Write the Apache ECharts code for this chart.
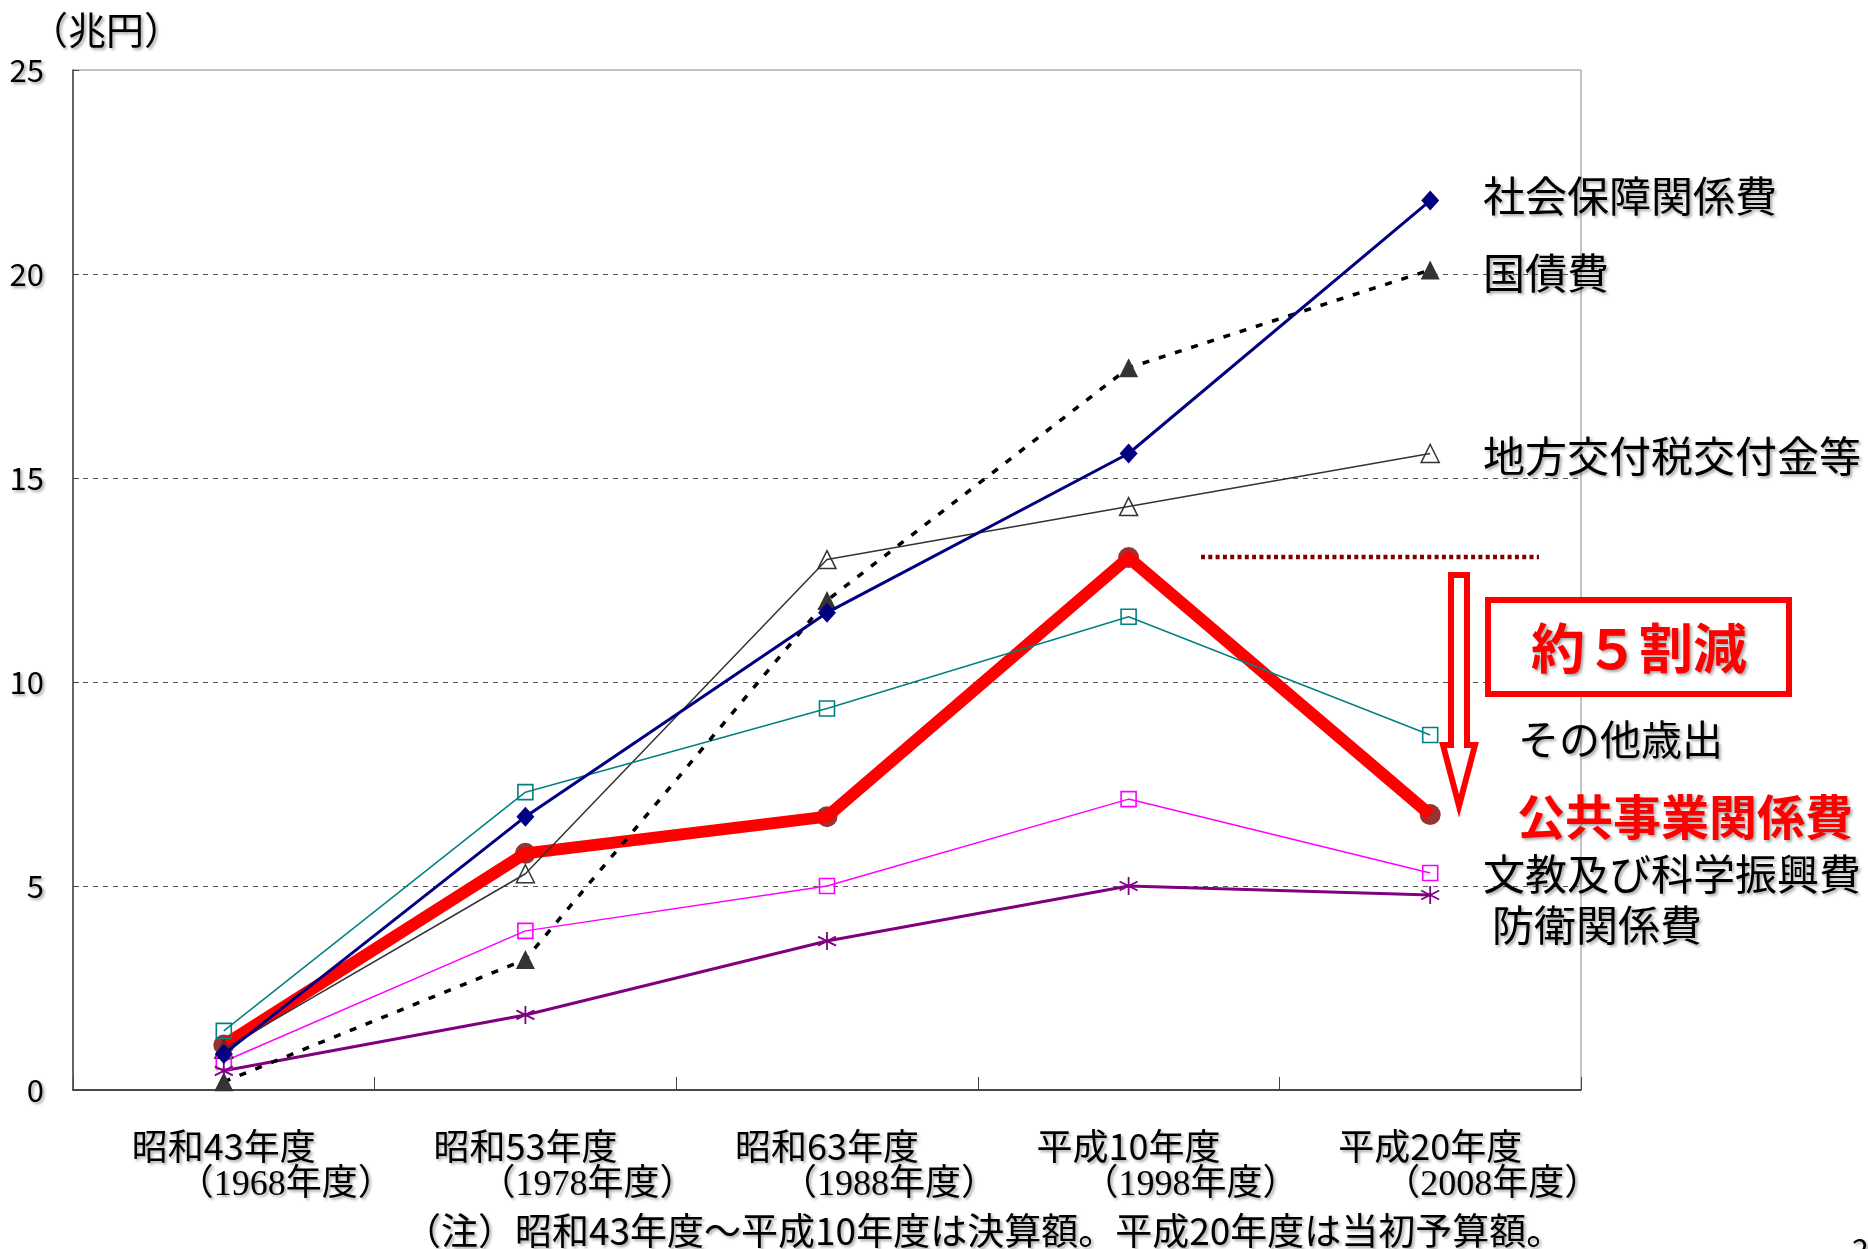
<!DOCTYPE html>
<html>
<head>
<meta charset="utf-8">
<script src="https://cdn.jsdelivr.net/npm/echarts@6/dist/echarts.min.js"></script>
<style>
html,body{margin:0;padding:0;background:#fff;}
#chart{width:1868px;height:1249px;}
</style>
</head>
<body>
<div id="chart"></div>
<script>
// ---- data (兆円) ----
const categories = ['昭和43年度', '昭和53年度', '昭和63年度', '平成10年度', '平成20年度'];
const yearLabels = ['（1968年度）', '（1978年度）', '（1988年度）', '（1998年度）', '（2008年度）'];
const socialSecurity = [0.88, 6.7, 11.7, 15.6, 21.8];   // 社会保障関係費
const debtService    = [0.2, 3.2, 12.0, 17.7, 20.1];    // 国債費
const localAllocation = [1.0, 5.3, 13.0, 14.3, 15.6];   // 地方交付税交付金等
const otherSpending  = [1.45, 7.3, 9.35, 11.6, 8.7];    // その他歳出
const publicWorks    = [1.1, 5.8, 6.7, 13.05, 6.75];    // 公共事業関係費
const education      = [0.7, 3.9, 5.0, 7.13, 5.32];     // 文教及び科学振興費
const defense        = [0.47, 1.84, 3.65, 5.0, 4.78];   // 防衛関係費
const yTicks = { min: 0, max: 25, interval: 5 };

const JP = "'Noto Sans CJK JP', 'Noto Sans', sans-serif";
const SERIF = "'Liberation Serif', 'Noto Sans CJK JP', serif";
const shadow = { textShadowColor: 'rgba(0,0,0,0.35)', textShadowBlur: 3, textShadowOffsetX: 2, textShadowOffsetY: 2 };

const chart = echarts.init(document.getElementById('chart'), null, { renderer: 'canvas' });

const hollow = 'rgba(255,255,255,0)';
const asterisk = 'path://M10,0 L10,20 M1.3,5 L18.7,15 M1.3,15 L18.7,5';

function label(text, x, y, size, opts) {
  return {
    type: 'text', z: 100,
    style: Object.assign({
      x: x, y: y, text: text,
      font: (opts && opts.weight ? opts.weight + ' ' : '') + size + 'px ' + JP,
      fill: (opts && opts.fill) || '#000',
      align: (opts && opts.align) || 'left',
      verticalAlign: 'middle'
    }, shadow)
  };
}

const option = {
  animation: false,
  backgroundColor: '#fff',
  grid: {
    left: 73, right: 287, top: 70, bottom: 159,
    show: true, borderColor: '#8a8a8a', borderWidth: 1,
    outerBoundsMode: 'none'
  },
  xAxis: {
    type: 'category',
    data: categories,
    boundaryGap: true,
    axisLine: { show: true, lineStyle: { color: '#222', width: 1.5 } },
    axisTick: { show: true, inside: true, length: 13, alignWithLabel: false, lineStyle: { color: '#444', width: 1 } },
    splitLine: { show: false },
    axisLabel: {
      interval: 0,
      margin: 37,
      hideOverlap: false,
      formatter: function (v, i) { return '{a|' + v + '}\n{b|' + yearLabels[i] + '}'; },
      rich: {
        a: Object.assign({ fontFamily: JP, fontSize: 36, color: '#000', lineHeight: 38, align: 'center' }, shadow),
        b: Object.assign({ fontFamily: SERIF, fontSize: 36, color: '#000', lineHeight: 42, align: 'center', padding: [0, 0, 0, 124] }, shadow)
      }
    }
  },
  yAxis: {
    type: 'value',
    min: yTicks.min, max: yTicks.max, interval: yTicks.interval,
    axisLine: { show: true, lineStyle: { color: '#444', width: 1.5 } },
    axisTick: { show: true, inside: true, length: 6, lineStyle: { color: '#444' } },
    splitLine: {
      show: true,
      showMinLine: false, showMaxLine: false,
      lineStyle: { color: '#555', width: 1, type: [5, 5] }
    },
    axisLabel: Object.assign({ fontFamily: JP, fontSize: 31, color: '#000', margin: 29 }, shadow)
  },
  series: [
    {
      name: '公共事業関係費（マーカー）', type: 'scatter', data: publicWorks, z: 2,
      symbol: 'circle', symbolSize: 21,
      itemStyle: { color: '#800000' }, silent: true
    },
    {
      name: '公共事業関係費', type: 'line', data: publicWorks, z: 3,
      showSymbol: false, symbol: 'none',
      lineStyle: { color: '#ff0000', width: 12, join: 'round', cap: 'butt' },
      silent: true
    },
    {
      name: '地方交付税交付金等', type: 'line', data: localAllocation, z: 4,
      symbol: 'triangle', symbolSize: 18,
      lineStyle: { color: '#333', width: 1.5 },
      itemStyle: { color: hollow, borderColor: '#333', borderWidth: 1.5 },
      silent: true
    },
    {
      name: 'その他歳出', type: 'line', data: otherSpending, z: 4,
      symbol: 'rect', symbolSize: 15,
      lineStyle: { color: '#008080', width: 1.5 },
      itemStyle: { color: hollow, borderColor: '#008080', borderWidth: 1.6 },
      silent: true
    },
    {
      name: '文教及び科学振興費', type: 'line', data: education, z: 4,
      symbol: 'rect', symbolSize: 15,
      lineStyle: { color: '#ff00ff', width: 1.5 },
      itemStyle: { color: hollow, borderColor: '#ff00ff', borderWidth: 1.6 },
      silent: true
    },
    {
      name: '防衛関係費', type: 'line', data: defense, z: 4,
      symbol: asterisk, symbolSize: 18,
      lineStyle: { color: '#800080', width: 3 },
      itemStyle: { color: hollow, borderColor: '#800080', borderWidth: 1.8 },
      silent: true
    },
    {
      name: '国債費', type: 'line', data: debtService, z: 5,
      symbol: 'triangle', symbolSize: 19,
      lineStyle: { color: '#000', width: 3.5, type: [7, 10] },
      itemStyle: { color: '#333', borderWidth: 0 },
      silent: true
    },
    {
      name: '社会保障関係費', type: 'line', data: socialSecurity, z: 6,
      symbol: 'diamond', symbolSize: [18, 20],
      lineStyle: { color: '#000080', width: 3 },
      itemStyle: { color: '#000080', borderWidth: 0 },
      silent: true
    }
  ],
  graphic: [
    label('（兆円）', 30, 30, 38),
    label('社会保障関係費', 1483, 196, 42),
    label('国債費', 1483, 273, 42),
    label('地方交付税交付金等', 1483, 456, 42),
    label('その他歳出', 1518, 739, 41),
    label('公共事業関係費', 1517, 817, 48, { fill: '#ff0000', weight: 'bold' }),
    label('文教及び科学振興費', 1483, 874, 42),
    label('防衛関係費', 1492, 925, 42),
    // dotted reference line at the 公共事業 peak
    {
      type: 'line', z: 90,
      shape: { x1: 1201, y1: 557, x2: 1539, y2: 557 },
      style: { stroke: '#800000', lineWidth: 4.5, lineDash: [4, 3.3] }
    },
    // hollow down arrow
    {
      type: 'polygon', z: 90,
      shape: { points: [[1451, 575], [1467, 575], [1467, 745], [1475, 745], [1459, 806], [1443, 745], [1451, 745]] },
      style: { fill: '#fff', stroke: '#ff0000', lineWidth: 6, lineJoin: 'miter' }
    },
    // box
    {
      type: 'rect', z: 90,
      shape: { x: 1488, y: 600, width: 301, height: 94 },
      style: { fill: '#fff', stroke: '#ff0000', lineWidth: 6 }
    },
    label('約５割減', 1639, 648, 54, { fill: '#ff0000', weight: 'bold', align: 'center' }),
    label('（注）昭和43年度～平成10年度は決算額。平成20年度は当初予算額。', 404, 1231, 37),
    label('2', 1852, 1250, 30)
  ]
};

chart.setOption(option);
</script>
</body>
</html>
